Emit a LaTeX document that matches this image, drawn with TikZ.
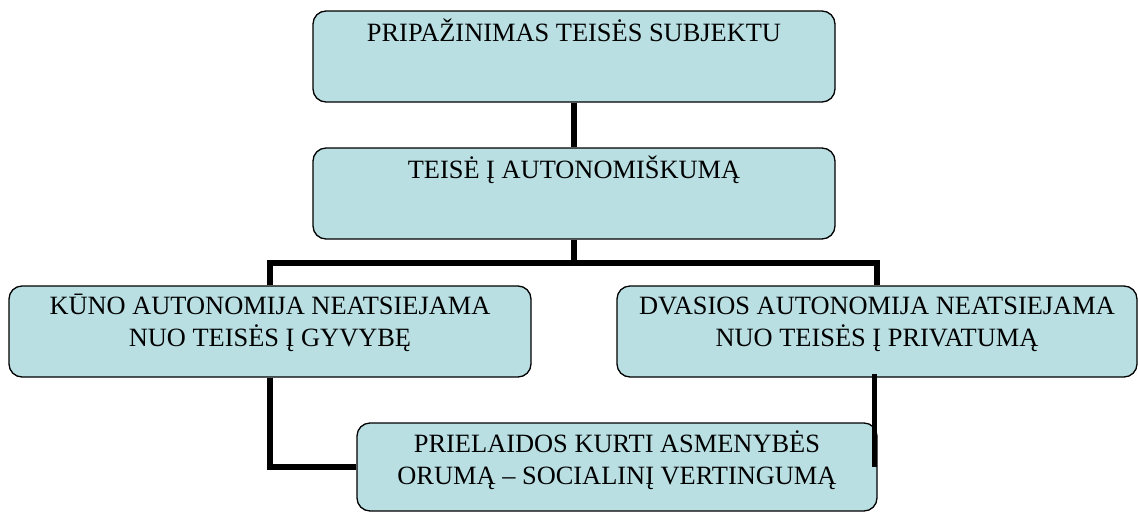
\documentclass[tikz,border=0pt]{standalone}
\usepackage{fontspec}
\setmainfont{Liberation Serif}
\definecolor{boxfill}{RGB}{185,223,227}
\begin{document}
\begin{tikzpicture}[x=1pt,y=-1pt,
  box/.style={draw=black, line width=1.3pt, fill=boxfill, rounded corners=13pt,
    minimum width=522pt, minimum height=91pt, inner sep=0pt},
  txt/.style={anchor=base, inner sep=0pt, font=\fontsize{26.4}{32}\selectfont},
  conn/.style={line width=5.5pt}]
\useasboundingbox (0,0) rectangle (1138,512);
% boxes
\node[box] (b1) at (574,56.5) {};
\node[box] (b2) at (574,193.5) {};
\node[box] (b3) at (270,331.5) {};
\node[box, minimum width=520pt] (b4) at (877,331.5) {};
\node[box, minimum width=520pt, minimum height=88pt] (b5) at (617,467) {};
% texts
\node[txt] (t1) at ([yshift=-31pt]b1.north) {PRIPAŽINIMAS TEISĖS SUBJEKTU};
\node[txt] (t2) at ([yshift=-31pt]b2.north) {TEISĖ Į AUTONOMIŠKUMĄ};
\node[txt] (t3) at ([yshift=-29pt]b3.north) {\begin{tabular}[t]{@{}c@{}}KŪNO AUTONOMIJA NEATSIEJAMA\\NUO TEISĖS Į GYVYBĘ\end{tabular}};
\node[txt] (t4) at ([yshift=-29pt]b4.north) {\begin{tabular}[t]{@{}c@{}}DVASIOS AUTONOMIJA NEATSIEJAMA\\NUO TEISĖS Į PRIVATUMĄ\end{tabular}};
\node[txt] (t5) at ([yshift=-30pt]b5.north) {\begin{tabular}[t]{@{}c@{}}PRIELAIDOS KURTI ASMENYBĖS\\ORUMĄ – SOCIALINĮ VERTINGUMĄ\end{tabular}};
% connectors
\coordinate (j) at (574,263);
\draw[conn] (b1.south) -- (b2.north);
\draw[conn] (b2.south) -- (j);
\draw[conn] (b3.north) |- (j) -| (b4.north);
\draw[conn] (b3.south) |- (b5.west);
\draw[conn] ([xshift=-2.5pt,yshift=4pt]b4.south) -- ([xshift=-2.5pt]b4.south |- b5.east);
\end{tikzpicture}
\end{document}
